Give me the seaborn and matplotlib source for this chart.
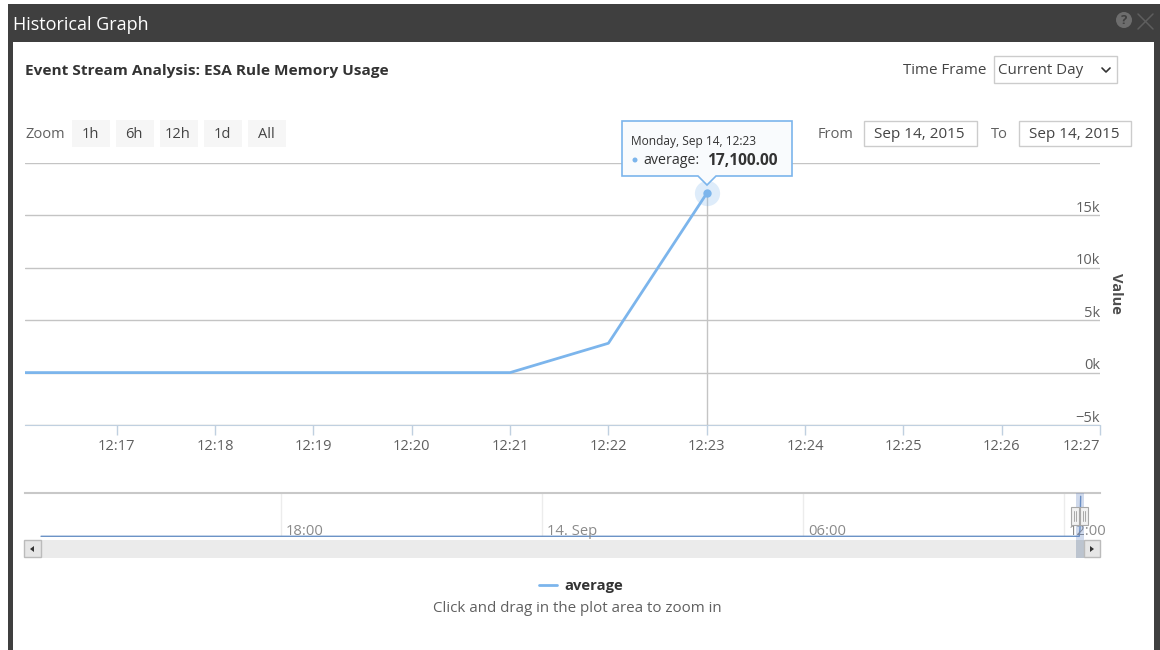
import pandas as pd
import seaborn as sns
import matplotlib.pyplot as plt
import matplotlib.dates as mdates
from matplotlib.patches import Rectangle, Polygon, Circle
from matplotlib.transforms import ScaledTranslation

# data
times = ['2015-09-14 12:16', '2015-09-14 12:17', '2015-09-14 12:18', '2015-09-14 12:19',
         '2015-09-14 12:20', '2015-09-14 12:21', '2015-09-14 12:22', '2015-09-14 12:23']
average = [0, 0, 0, 0, 0, 0, 2800, 17100]
nav_times = ['2015-09-13 12:29', '2015-09-13 18:00', '2015-09-14 00:00', '2015-09-14 06:00',
             '2015-09-14 12:00', '2015-09-14 12:21', '2015-09-14 12:22', '2015-09-14 12:23']
nav_average = [0, 0, 0, 0, 0, 0, 2800, 17100]
hover_time = ['2015-09-14 12:23']
hover_value = [17100]
y_ticks = [-5000, 0, 5000, 10000, 15000, 20000]
y_labels = ['−5k', '0k', '5k', '10k', '15k', '']
x_ticks = ['2015-09-14 12:17', '2015-09-14 12:18', '2015-09-14 12:19', '2015-09-14 12:20',
           '2015-09-14 12:21', '2015-09-14 12:22', '2015-09-14 12:23', '2015-09-14 12:24',
           '2015-09-14 12:25', '2015-09-14 12:26', '2015-09-14 12:27']
nav_ticks = ['2015-09-13 18:00', '2015-09-14 00:00', '2015-09-14 06:00', '2015-09-14 12:00']
nav_labels = ['18:00', '14. Sep', '06:00', '12:00']
zoom_buttons = ['1h', '6h', '12h', '1d', 'All']

sns.set_style('white')
plt.rcParams['font.family'] = ['Open Sans', 'DejaVu Sans']

W, H = 1160, 650
BLUE = '#7cb5ec'
TXT = '#606060'
fig = plt.figure(figsize=(W / 100, H / 100), dpi=100)


def px_axes(x0, y0, x1, y1, **kw):
    return fig.add_axes([x0 / W, 1 - y1 / H, (x1 - x0) / W, (y1 - y0) / H], **kw)


def d(s):
    return mdates.date2num(pd.Timestamp(s))


# page chrome, in pixel coordinates
bg = px_axes(0, 0, W, H, zorder=0)
bg.set_xlim(0, W)
bg.set_ylim(H, 0)
bg.axis('off')
DARK = '#3f3f3f'
bg.add_patch(Rectangle((8, 4), W - 8, 38, color=DARK, lw=0))
bg.add_patch(Rectangle((8, 4), 5, H, color=DARK, lw=0))
bg.add_patch(Rectangle((1154, 4), 6, H, color=DARK, lw=0))
bg.text(13, 24.5, 'Historical Graph', color='white', fontsize=13, va='center')
bg.add_patch(Circle((1124, 20), 8, color='#6d6d6d', lw=0))
bg.text(1124, 20, '?', color=DARK, fontsize=9.5, fontweight='bold', ha='center', va='center')
bg.plot([1138, 1153], [14, 29], color='#5e5e5e', lw=1.1)
bg.plot([1138, 1153], [29, 14], color='#5e5e5e', lw=1.1)

bg.text(25, 71, 'Event Stream Analysis: ESA Rule Memory Usage', color='#333333',
        fontsize=11.1, fontweight='bold', va='center')
bg.text(903, 70, 'Time Frame', color='#444444', fontsize=10.9, va='center')
bg.add_patch(Rectangle((994, 56), 123, 27, fc='white', ec='#cccccc', lw=1))
bg.text(998, 71, 'Current Day', color='#444444', fontsize=10.9, va='center')
bg.plot([1102, 1106, 1110], [68, 72, 68], color='#333333', lw=1.2)

bg.text(25, 135, 'Zoom', color=TXT, fontsize=10.5, va='center')
for i, label in enumerate(zoom_buttons):
    bx = 72 + i * 44
    bg.add_patch(Rectangle((bx, 120), 38, 27, color='#f6f6f6', lw=0))
    bg.text(bx + 18, 135, label, color='#444444', fontsize=10.5, ha='center', va='center')

bg.text(818, 135, 'From', color=TXT, fontsize=10.5, va='center')
bg.add_patch(Rectangle((864, 121), 113, 25, fc='white', ec='#cccccc', lw=1))
bg.text(919, 135, 'Sep 14, 2015', color='#444444', fontsize=11, ha='center', va='center')
bg.text(991, 135, 'To', color=TXT, fontsize=10.5, va='center')
bg.add_patch(Rectangle((1019, 121), 112, 25, fc='white', ec='#cccccc', lw=1))
bg.text(1074, 135, 'Sep 14, 2015', color='#444444', fontsize=11, ha='center', va='center')

# main chart
ax = px_axes(25, 163, 1100, 425, zorder=1)
ax.patch.set_alpha(0)
main_df = pd.DataFrame({'time': pd.to_datetime(times), 'average': average})
sns.lineplot(data=main_df, x='time', y='average', ax=ax, color=BLUE, linewidth=2,
             label='average', zorder=3)
ax.set_xlim(d('2015-09-14 12:16') + 4 / 86400, d('2015-09-14 12:27'))
ax.set_ylim(y_ticks[0], y_ticks[-1])
ax.set_xlabel('')
ax.set_ylabel('')
ax.yaxis.tick_right()
ax.set_yticks(y_ticks)
ax.set_yticklabels(y_labels)
ax.set_xticks(pd.to_datetime(x_ticks))
ax.xaxis.set_major_formatter(mdates.DateFormatter('%H:%M'))
ax.grid(axis='y', color='#c4c4c4', linewidth=1)
ax.grid(axis='x', visible=False)
for side in ['top', 'left', 'right']:
    ax.spines[side].set_visible(False)
ax.spines['bottom'].set_color('#c0d0e0')
ax.tick_params(axis='x', bottom=True, length=7, width=1, color='#c0d0e0', pad=3, labelsize=10.5, labelcolor=TXT)
ax.tick_params(axis='y', length=0, pad=0, labelsize=10.5, labelcolor=TXT)
for lbl in ax.get_yticklabels():
    lbl.set_ha('right')
    lbl.set_va('bottom')
    lbl.set_transform(lbl.get_transform() + ScaledTranslation(0, -0.4 / 72, fig.dpi_scale_trans))
ax.get_xticklabels()[-1].set_ha('right')
fig.text(1116 / W, 1 - 293 / H, 'Value', color='#4d4d4d', fontsize=10.5, fontweight='bold',
         rotation=270, ha='center', va='center')

# hover state
hover_df = pd.DataFrame({'time': pd.to_datetime(hover_time), 'value': hover_value})
ax.axvline(hover_df['time'][0], color='#c4c4c4', linewidth=1, zorder=2, ymax=(hover_value[0] - y_ticks[0]) / 25000)
sns.scatterplot(data=hover_df, x='time', y='value', ax=ax, s=330, color=BLUE, alpha=0.25,
                linewidth=0, legend=False, zorder=4)
sns.scatterplot(data=hover_df, x='time', y='value', ax=ax, s=36, color=BLUE,
                linewidth=0, legend=False, zorder=5)
ax.set_xlabel('')
ax.set_ylabel('')

# legend
ax.legend(loc='center', bbox_to_anchor=(581 / W, 1 - 586 / H), bbox_transform=fig.transFigure,
          frameon=False, handlelength=1.2, handletextpad=0.5, borderpad=0,
          prop={'size': 10.6, 'weight': 'bold'}, labelcolor='#333333')
fig.text(577 / W, 1 - 609 / H, 'Click and drag in the plot area to zoom in', color=TXT,
         fontsize=10.9, ha='center', va='center')

# navigator
PX_PER_H = 261 / 6
nav_left = d('2015-09-13 18:00') - (281 - 25) / PX_PER_H / 24
nav_right = d('2015-09-13 18:00') + (1100 - 281) / PX_PER_H / 24
nav = px_axes(25, 493, 1100, 537, zorder=1)
nav.patch.set_alpha(0)
nav_df = pd.DataFrame({'time': pd.to_datetime(nav_times), 'average': nav_average})
sns.lineplot(data=nav_df, x='time', y='average', ax=nav, color='#6b93c6', linewidth=1, zorder=3)
nav.set_xlim(nav_left, nav_right)
nav.set_ylim(-300, 18500)
nav.set_xlabel('')
nav.set_ylabel('')
nav.set_yticks([])
nav.set_xticks(pd.to_datetime(nav_ticks))
nav.set_xticklabels([])
nav.tick_params(axis='x', length=0)
for side in ['left', 'right', 'bottom']:
    nav.spines[side].set_visible(False)
nav.spines['top'].set_color('#c8c8c8')
nav.spines['top'].set_linewidth(1.5)
nav.grid(axis='x', color='#ececec', linewidth=1)
nav.grid(axis='y', visible=False)
for t, label in zip(nav_ticks, nav_labels):
    nav.annotate(label, xy=(d(t), 0), xycoords=('data', 'axes fraction'), xytext=(3.6, -1.5),
                 textcoords='offset points', color='#8a8a8a', fontsize=10.6, ha='left', va='bottom',
                 annotation_clip=False, zorder=6)

# scrollbar and handles, drawn over the navigator
fg = px_axes(0, 0, W, H, zorder=2)
fg.set_xlim(0, W)
fg.set_ylim(H, 0)
fg.axis('off')
fg.patch.set_alpha(0)
fg.add_patch(Rectangle((25, 540), 1075, 18, color='#ebebeb', lw=0))
fg.add_patch(Rectangle((1076, 493), 8, 47, color='#6685c2', alpha=0.3, lw=0))
fg.add_patch(Rectangle((1076, 540), 8, 18, color='#bcc4cf', lw=0))
fg.add_patch(Rectangle((24, 540), 17, 17, fc='#e6e6e6', ec='#bbbbbb', lw=1))
fg.add_patch(Polygon([[34, 546], [34, 552], [30, 549]], color='#333333', lw=0))
fg.add_patch(Rectangle((1084, 540), 16, 17, fc='#e6e6e6', ec='#bbbbbb', lw=1))
fg.add_patch(Polygon([[1090, 546], [1090, 552], [1094, 549]], color='#333333', lw=0))
for hx in [1071, 1080]:
    fg.add_patch(Rectangle((hx, 507), 8, 18, fc='#f2f2f2', ec='#a8a8a8', lw=0.8))
    fg.plot([hx + 3, hx + 3], [511, 521], color='#a8a8a8', lw=0.7)
    fg.plot([hx + 5, hx + 5], [511, 521], color='#a8a8a8', lw=0.7)

# tooltip
fg.add_patch(Polygon([[622, 121], [792, 121], [792, 176], [716, 176], [707, 185], [698, 176], [622, 176]],
                     fc='#f9fbfd', ec=BLUE, lw=1.2))
fg.text(631, 142, 'Monday, Sep 14, 12:23', color='#333333', fontsize=8.6, va='center')
fg.add_patch(Circle((635, 160), 2.5, color=BLUE, lw=0))
fg.text(643, 161, 'average:', color='#333333', fontsize=10.3, va='center')
fg.text(707, 161, '17,100.00', color='#333333', fontsize=11.2, fontweight='bold', va='center')

plt.savefig('out.png', dpi=100)
plt.close()
